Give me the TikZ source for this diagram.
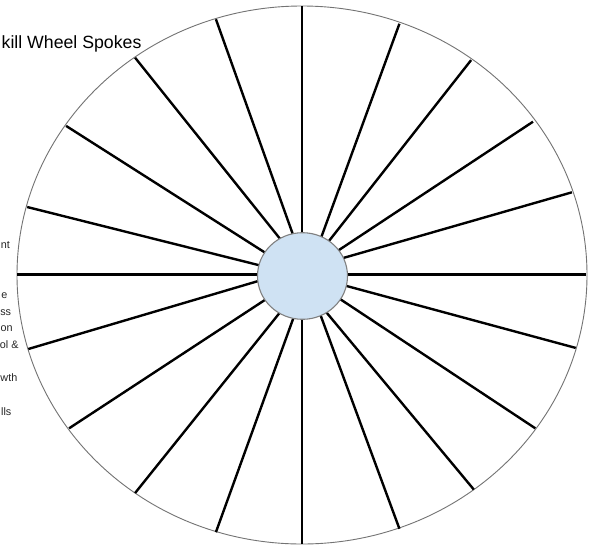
\documentclass[tikz,border=0pt]{standalone}
\usepackage{fontspec}
\setmainfont{Liberation Sans}
\begin{document}
\begin{tikzpicture}[x=1pt,y=-1pt,
  rimline/.style={draw=black!55, line width=0.9pt},
  spokeline/.style={draw=black, line width=2.4pt, shorten >=-5pt},
  hubshape/.style={draw=black!50, line width=1.1pt, fill=hubblue},
  titletext/.style={font=\fontsize{17.7}{20}\selectfont, inner sep=0pt, anchor=base west},
  cuttext/.style={font=\fontsize{10.8}{12}\selectfont, inner sep=0pt, anchor=base east, text=black!85}]
\definecolor{hubblue}{HTML}{CFE2F3}
\useasboundingbox (0,0) rectangle (594,547);
\fill[white] (0,0) rectangle (594,547);
% outer rim
\draw[rimline] (302,275) ellipse [x radius=285, y radius=269];
% spokes
\foreach \n/\ox/\oy/\ix/\iy in {
  1/302/6.3/302/232,
  2/399.4/23.8/322.7/233.3,
  3/471.1/60.1/331.7/237.5,
  4/533.0/121.7/340.5/249,
  5/571.9/192.3/346.7/257,
  6/586/274.5/348/274.5,
  7/575.7/347.9/346.7/286,
  8/535.3/428.3/340/299,
  9/473.8/489.5/329/315.5,
  10/399.4/528.7/321.7/318.3,
  11/302/544/302/319,
  12/215.9/532.2/293.3/318.3,
  13/135.1/493/278.3/314.5,
  14/69.1/428.3/263.3/301,
  15/28.3/349/258.3/281,
  16/17/274.5/257.3/274.5,
  17/27.2/207/258.3/265,
  18/66.1/125.9/263.3/251.5,
  19/135.1/57.7/279/237.5,
  20/215.9/19.2/292.5/233.3}{
  \coordinate (o\n) at (\ox,\oy);
  \coordinate (i\n) at (\ix,\iy);
  \draw[spokeline] (o\n) -- (i\n);
}
% hub
\draw[hubshape] (302.5,276) ellipse [x radius=45, y radius=43.3];
\node[circle, minimum size=0pt, inner sep=0pt] (hub) at (302.5,276) {};
% title (cut at the left edge)
\node[titletext] (title) at (1.5,48.3) {kill Wheel Spokes};
% cut-off labels at the left edge
\node[cuttext] (t1) at (10,248.3) {nt};
\node[cuttext] (t2) at (7.5,298.3) {e};
\node[cuttext] (t3) at (11.3,315) {ss};
\node[cuttext] (t4) at (12.8,331.7) {on};
\node[cuttext] (t5) at (18.8,348.3) {ol \&};
\node[cuttext] (t6) at (17.5,381.7) {wth};
\node[cuttext] (t7) at (11.6,415) {lls};
\end{tikzpicture}
\end{document}
